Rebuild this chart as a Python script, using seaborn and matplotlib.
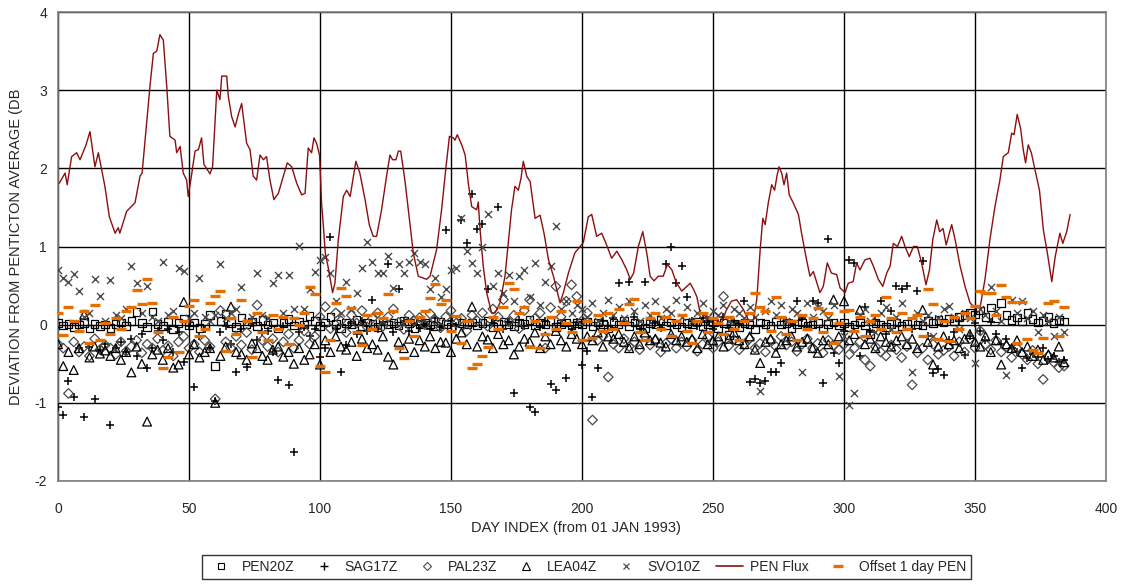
import pandas as pd
import seaborn as sns
import matplotlib.pyplot as plt
from matplotlib.lines import Line2D

# day index of the daily station points (every second day)
days = list(range(0, 386, 2))

pen20z = [
    0.02, -0.01, 0.01, -0.03, 0.00, 0.02, -0.05, 0.01, -0.02, 0.00,
    -0.04, 0.01, 0.03, -0.02, 0.05, 0.16, 0.02, -0.03, 0.17, 0.01,
    -0.02, 0.04, -0.06, 0.02, 0.08, -0.01, 0.03, -0.04, 0.01, 0.12,
    -0.53, 0.05, 0.14, 0.02, -0.03, 0.09, 0.01, 0.04, -0.02, 0.06,
    0.00, 0.03, -0.05, 0.02, 0.07, -0.01, 0.04, 0.00, 0.11, 0.05,
    -0.02, 0.03, 0.10, 0.01, -0.04, 0.02, 0.00, 0.06, -0.02, 0.03,
    0.01, -0.03, 0.04, 0.00, 0.02, -0.01, 0.05, 0.02, -0.04, 0.01,
    0.03, 0.00, -0.02, 0.04, 0.01, -0.03, 0.06, 0.02, 0.00, 0.03,
    -0.01, 0.02, 0.05, -0.03, 0.01, 0.04, 0.00, -0.02, 0.03, 0.01,
    0.06, -0.01, 0.02, 0.00, 0.04, -0.03, 0.01, 0.03, -0.01, 0.02,
    0.00, 0.04, -0.02, 0.03, 0.01, -0.05, 0.02, 0.00, 0.05, -0.02,
    0.03, 0.01, -0.04, 0.02, 0.00, 0.06, -0.01, 0.03, 0.01, -0.03,
    0.02, 0.00, 0.04, -0.02, 0.01, 0.03, -0.05, 0.02, -0.13, 0.01,
    -0.03, 0.02, 0.00, -0.06, 0.03, 0.01, -0.02, 0.04, 0.00, 0.02,
    -0.04, 0.01, 0.03, -0.02, 0.00, 0.02, -0.05, 0.01, 0.03, -0.01,
    0.02, -0.03, 0.00, 0.03, -0.01, -0.12, 0.02, 0.00, -0.03, 0.01,
    0.03, -0.02, 0.01, 0.04, 0.00, -0.01, 0.05, 0.02, 0.06, 0.03,
    0.08, 0.05, 0.10, 0.12, 0.15, 0.13, 0.18, 0.10, 0.22, 0.08,
    0.28, 0.12, 0.06, 0.09, 0.04, 0.15, 0.07, 0.03, 0.05, 0.10,
    0.02, 0.06, 0.04,
]

sag17z = [
    -1.05, -1.15, -0.72, -0.92, -0.30, -1.18, -0.28, -0.95, -0.33, -0.25,
    -1.28, -0.30, -0.22, -0.35, -0.18, -0.40, -0.12, -0.55, -0.30, -0.08,
    -0.20, -0.05, -0.35, -0.10, -0.48, -0.02, -0.80, -0.15, -0.05, -0.30,
    -0.98, -0.10, -0.02, -0.25, -0.60, -0.05, -0.54, 0.02, -0.20, -0.10,
    -0.08, -0.35, -0.71, -0.02, -0.77, -1.63, -0.10, -0.03, -0.15, -0.05,
    -0.41, -0.30, 1.12, -0.05, -0.60, -0.26, 0.02, -0.12, 0.05, -0.08,
    0.32, -0.05, 0.03, 0.78, -0.10, 0.45, 0.05, -0.08, 0.02, -0.04,
    0.01, -0.06, 0.08, -0.03, 1.21, 0.05, -0.02, 1.34, 1.04, 1.67,
    1.23, 1.29, 0.45, 0.02, 1.51, -0.05, 0.04, -0.88, 0.06, -0.02,
    -1.05, -1.12, -0.03, 0.05, -0.76, -0.83, 0.02, -0.68, -0.05, 0.04,
    -0.51, -0.34, -0.92, -0.55, 0.05, -0.02, 0.08, 0.53, 0.04, 0.55,
    0.10, -0.05, 0.55, 0.06, 0.02, -0.04, 0.77, 1.00, 0.53, 0.75,
    0.36, 0.05, -0.02, 0.08, 0.03, -0.06, 0.02, 0.10, -0.04, 0.04,
    0.01, 0.30, -0.73, -0.70, -0.75, -0.72, -0.60, -0.60, -0.49, 0.05,
    0.02, 0.30, 0.08, -0.03, 0.30, 0.28, -0.74, 1.09, -0.36, -0.49,
    -0.08, 0.83, 0.79, -0.40, 0.23, -0.10, 0.05, 0.30, -0.12, 0.17,
    0.49, 0.45, 0.49, -0.05, 0.43, 0.81, -0.15, -0.62, -0.57, -0.65,
    -0.20, -0.10, 0.05, -0.39, -0.15, 0.02, -0.08, -0.20, 0.03, -0.12,
    -0.25, -0.18, -0.30, -0.35, -0.56, -0.43, -0.38, -0.42, -0.30, -0.45,
    -0.40, -0.48, -0.45,
]

pal23z = [
    -0.25, -0.30, -0.88, -0.22, -0.35, -0.28, -0.40, -0.18, -0.32, -0.26,
    -0.30, -0.38, -0.22, -0.34, -0.28, -0.20, -0.36, -0.25, -0.30, -0.18,
    -0.33, -0.27, -0.40, -0.22, -0.15, -0.30, -0.25, -0.35, -0.20, -0.28,
    -0.95, 0.18, -0.22, -0.30, -0.15, -0.26, -0.10, -0.32, 0.25, -0.20,
    -0.28, -0.18, -0.35, -0.22, -0.12, -0.30, -0.20, -0.08, -0.25, -0.15,
    0.10, 0.23, -0.05, 0.15, 0.05, -0.10, 0.12, 0.02, 0.18, -0.03,
    0.08, 0.15, -0.02, 0.10, 0.20, 0.03, -0.06, 0.12, 0.05, 0.09,
    0.00, 0.14, 0.06, -0.04, 0.10, 0.18, 0.02, 0.08, -0.08, 0.12,
    0.05, 0.15, -0.02, 0.20, 0.10, 0.32, 0.04, 0.12, -0.05, 0.18,
    0.32, 0.08, 0.15, -0.30, 0.22, 0.49, 0.10, 0.30, 0.51, 0.36,
    0.05, 0.15, -1.22, -0.20, -0.15, -0.67, -0.25, -0.30, -0.18, -0.28,
    -0.22, -0.32, -0.15, -0.26, -0.20, -0.35, -0.24, -0.18, -0.30, -0.22,
    -0.28, -0.20, -0.34, -0.25, -0.16, -0.30, -0.22, 0.36, -0.27, -0.19,
    -0.32, -0.25, -0.18, -0.30, -0.24, -0.35, -0.20, -0.28, -0.15, -0.26,
    -0.22, -0.34, -0.25, -0.18, -0.30, -0.24, -0.36, -0.20, -0.27, -0.32,
    -0.25, -0.38, -0.30, -0.22, -0.45, -0.53, -0.28, -0.35, -0.40, -0.26,
    -0.32, -0.42, -0.28, -0.77, -0.36, -0.30, -0.45, -0.25, -0.38, -0.33,
    -0.28, -0.40, -0.22, -0.35, -0.18, -0.30, -0.08, -0.25, -0.32, -0.20,
    -0.35, -0.28, -0.42, -0.30, -0.38, -0.45, -0.33, -0.50, -0.70, -0.40,
    -0.48, -0.55, -0.53,
]

lea04z = [
    -0.25, -0.53, -0.35, -0.58, -0.30, 0.13, -0.42, -0.28, -0.37, -0.33,
    -0.40, -0.30, -0.45, -0.35, -0.61, -0.28, -0.50, -1.24, -0.38, -0.32,
    -0.45, -0.30, -0.55, -0.51, 0.29, -0.38, -0.25, -0.42, -0.35, -0.30,
    -1.00, -0.40, -0.28, 0.23, -0.35, -0.38, -0.45, -0.24, -0.30, -0.40,
    -0.45, -0.32, -0.28, -0.41, -0.35, -0.50, -0.30, -0.45, -0.38, -0.25,
    -0.51, -0.20, -0.35, -0.15, -0.28, -0.32, -0.22, -0.40, -0.18, -0.30,
    -0.25, -0.32, -0.15, -0.41, -0.51, -0.22, -0.30, -0.18, -0.35, -0.20,
    -0.28, -0.15, -0.30, -0.22, -0.23, -0.35, -0.18, -0.10, -0.25, 0.23,
    -0.28, -0.15, -0.19, -0.30, -0.12, -0.25, -0.20, -0.38, -0.28, -0.18,
    -0.22, -0.10, -0.30, -0.15, -0.25, -0.08, -0.20, -0.28, -0.12, -0.18,
    -0.25, -0.15, -0.20, -0.10, -0.28, -0.15, -0.18, -0.12, -0.22, -0.30,
    -0.15, -0.25, -0.10, -0.20, -0.18, -0.23, -0.28, -0.12, -0.20, -0.15,
    -0.22, -0.18, -0.30, -0.12, -0.25, -0.20, -0.15, -0.28, -0.18, -0.10,
    -0.20, -0.25, -0.15, -0.32, -0.49, -0.22, -0.18, -0.36, -0.25, -0.20,
    -0.15, -0.28, -0.22, -0.18, -0.30, -0.36, -0.20, -0.25, 0.32, -0.15,
    0.30, -0.20, -0.12, 0.19, -0.25, -0.18, -0.30, -0.15, -0.22, -0.28,
    -0.20, -0.15, -0.25, -0.18, -0.30, 0.19, -0.22, -0.51, -0.28, -0.15,
    -0.25, -0.20, -0.30, -0.18, -0.12, -0.22, -0.28, -0.15, -0.35, -0.20,
    -0.51, -0.25, -0.30, -0.20, -0.35, -0.28, -0.40, -0.32, -0.45, -0.38,
    -0.42, -0.28, -0.48,
]

svo10z = [
    0.70, 0.60, 0.55, 0.65, 0.43, 0.10, 0.15, 0.58, 0.37, 0.05,
    0.57, 0.12, 0.08, 0.20, 0.75, 0.53, 0.15, 0.50, 0.10, 0.05,
    0.80, 0.12, 0.18, 0.72, 0.69, 0.08, 0.15, 0.60, 0.10, 0.05,
    0.12, 0.77, 0.08, 0.15, 0.20, 0.48, 0.05, 0.10, 0.66, 0.12,
    0.08, 0.53, 0.63, 0.15, 0.64, 0.20, 1.01, 0.20, 0.45, 0.68,
    0.83, 0.87, 0.66, 0.30, 0.15, 0.55, 0.20, 0.40, 0.72, 1.06,
    0.80, 0.66, 0.66, 0.88, 0.47, 0.77, 0.66, 0.80, 0.92, 0.80,
    0.77, 0.45, 0.60, 0.35, 0.45, 0.70, 0.72, 1.36, 0.94, 0.79,
    0.66, 1.00, 1.42, 0.50, 0.66, 0.40, 0.64, 0.30, 0.62, 0.70,
    0.35, 0.79, 0.25, 0.55, 0.75, 1.26, 0.20, 0.30, 0.15, 0.25,
    0.20, 0.10, 0.28, 0.05, 0.15, 0.32, 0.12, 0.22, 0.08, 0.30,
    0.18, 0.05, 0.25, 0.12, 0.30, 0.08, 0.20, 0.15, 0.32, 0.10,
    0.22, 0.05, 0.15, 0.28, 0.10, 0.18, 0.12, 0.25, 0.05, 0.20,
    0.15, 0.08, 0.22, 0.10, -0.85, 0.18, 0.30, 0.12, 0.25, 0.05,
    0.20, 0.15, -0.60, 0.28, 0.10, 0.22, 0.18, 0.08, 0.25, -0.66,
    -0.15, -1.03, -0.87, 0.12, 0.20, 0.05, -0.10, 0.15, 0.22, -0.05,
    0.10, 0.28, -0.20, -0.60, 0.15, 0.05, 0.12, -0.15, 0.08, 0.20,
    0.24, 0.10, -0.05, 0.15, 0.08, -0.49, 0.20, 0.12, 0.48, 0.18,
    0.05, -0.64, 0.32, 0.15, 0.30, 0.08, 0.17, -0.10, 0.12, 0.05,
    -0.15, 0.10, -0.10,
]

offset_pen = [
    0.15, -0.13, 0.23, 0.05, -0.08, 0.17, -0.23, 0.25, -0.20, 0.02,
    -0.12, 0.08, -0.05, 0.17, 0.22, 0.44, 0.27, 0.58, 0.28, -0.10,
    -0.55, -0.41, 0.10, -0.35, 0.05, 0.24, 0.31, -0.15, -0.05, 0.28,
    0.37, 0.43, -0.34, 0.08, -0.12, 0.32, 0.05, -0.41, 0.15, -0.10,
    -0.19, 0.12, -0.05, 0.10, -0.25, 0.08, 0.00, 0.15, 0.48, 0.39,
    -0.53, -0.61, -0.19, 0.28, 0.47, 0.37, 0.21, -0.10, -0.26, 0.12,
    -0.05, 0.15, 0.08, 0.39, 0.17, -0.30, -0.43, 0.05, -0.15, 0.10,
    0.18, 0.34, 0.52, 0.27, 0.31, -0.08, 0.11, -0.23, 0.05, -0.55,
    -0.50, -0.40, -0.29, 0.10, -0.05, 0.23, 0.53, 0.45, 0.15, 0.23,
    -0.29, 0.05, -0.30, -0.12, 0.10, -0.05, 0.18, 0.02, -0.10, 0.30,
    -0.19, 0.05, -0.17, 0.12, -0.08, 0.15, -0.05, 0.20, 0.02, 0.27,
    0.33, -0.10, -0.19, 0.08, 0.15, -0.05, 0.10, -0.15, 0.05, 0.12,
    -0.08, -0.23, 0.05, 0.15, -0.10, 0.08, 0.02, -0.12, 0.10, -0.05,
    -0.19, 0.05, 0.15, 0.41, 0.23, 0.18, -0.08, 0.36, 0.10, -0.12,
    0.05, -0.19, 0.12, -0.05, 0.08, 0.21, -0.10, 0.15, -0.24, 0.02,
    0.18, 0.19, -0.08, 0.10, -0.15, 0.05, 0.12, -0.05, 0.36, 0.08,
    -0.10, 0.15, -0.05, 0.08, 0.12, -0.15, 0.45, 0.26, -0.18, 0.05,
    -0.21, 0.10, -0.05, 0.15, 0.08, 0.24, 0.43, 0.41, 0.41, 0.12,
    0.51, 0.35, 0.29, -0.24, 0.29, -0.18, -0.32, -0.36, -0.17, 0.28,
    0.30, -0.14, 0.23,
]

# PEN flux curve, traced point by point
flux_day = [
    0.5, 2.7, 3.5, 5.2, 7.1, 8.4, 10.7, 12.2, 14.1, 15.4,
    17.9, 19.6, 21.8, 23.0, 23.6, 26.2, 29.4, 31.3, 32.1, 35.1,
    36.4, 37.7, 38.9, 40.2, 41.5, 42.7, 44.7, 45.3, 46.6, 47.8,
    49.1, 49.7, 51.0, 52.3, 53.6, 54.8, 55.7, 58.0, 59.0, 60.6,
    61.8, 62.5, 64.4, 65.0, 66.3, 67.6, 68.9, 70.1, 72.0, 73.3,
    74.5, 75.8, 77.1, 78.4, 79.6, 80.9, 82.4, 84.1, 86.0, 87.5,
    89.2, 91.1, 93.0, 94.3, 95.5, 96.8, 97.7, 98.7, 99.8, 100.3,
    100.6, 101.3, 102.0, 103.2, 104.8, 105.7, 107.0, 108.9, 110.2, 111.5,
    113.7, 115.2, 117.2, 118.8, 120.3, 121.6, 123.5, 125.4, 126.7, 127.7,
    129.0, 129.9, 130.8, 132.4, 133.7, 135.6, 137.5, 140.7, 142.0, 144.5,
    146.4, 148.1, 149.4, 150.9, 151.5, 152.4, 154.1, 155.4, 156.6, 157.9,
    159.8, 160.4, 161.1, 162.3, 163.6, 165.5, 166.8, 168.7, 170.6, 173.1,
    174.4, 175.7, 176.7, 177.6, 178.9, 180.2, 182.1, 184.0, 185.5, 187.2,
    189.1, 191.6, 192.9, 194.8, 197.3, 200.5, 202.4, 203.7, 205.6, 207.5,
    209.4, 211.3, 213.3, 215.2, 217.1, 218.4, 219.7, 221.5, 223.2, 224.7,
    226.0, 227.5, 229.1, 231.0, 232.6, 234.3, 236.1, 238.1, 240.0, 241.3,
    242.6, 243.8, 245.1, 247.0, 249.0, 251.5, 253.3, 255.0, 257.0, 259.0,
    261.5, 263.5, 265.4, 266.7, 268.0, 269.0, 269.9, 271.1, 272.4, 273.5,
    274.4, 275.2, 276.2, 277.1, 278.1, 279.1, 280.6, 282.6, 283.8, 285.7,
    287.0, 288.3, 289.5, 290.8, 292.1, 293.6, 295.2, 297.2, 298.5, 300.4,
    301.6, 303.5, 304.8, 306.1, 308.0, 309.9, 311.2, 313.1, 314.8, 316.3,
    317.6, 318.8, 320.4, 322.0, 323.3, 324.9, 326.5, 328.0, 329.6, 331.3,
    332.6, 333.9, 335.4, 336.5, 337.8, 339.0, 341.1, 342.4, 344.3, 346.2,
    348.1, 350.1, 352.0, 353.8, 355.7, 357.6, 359.5, 360.8, 362.7, 364.0,
    364.9, 366.1, 367.4, 368.4, 369.3, 370.3, 371.5, 372.9, 374.6, 376.1,
    377.6, 379.3, 380.6, 382.4, 383.5, 385.0, 386.3,
]
flux_val = [
    1.81, 1.94, 1.79, 2.15, 2.20, 2.11, 2.30, 2.47, 2.02, 2.20,
    1.77, 1.38, 1.17, 1.24, 1.17, 1.45, 1.56, 1.90, 1.94, 3.05,
    3.47, 3.50, 3.71, 3.64, 3.05, 2.41, 2.36, 2.20, 2.28, 1.94,
    1.85, 1.64, 1.92, 2.22, 2.24, 2.39, 2.05, 1.93, 2.02, 3.00,
    2.88, 3.18, 3.18, 2.92, 2.66, 2.53, 2.70, 2.83, 2.32, 2.24,
    1.90, 1.85, 2.17, 2.11, 2.15, 1.85, 1.60, 1.68, 1.90, 2.07,
    2.02, 1.81, 1.66, 1.68, 2.26, 2.20, 2.39, 2.32, 2.17, 1.81,
    1.55, 1.26, 0.92, 0.72, 0.41, 0.53, 1.09, 1.64, 1.72, 1.64,
    2.09, 1.94, 1.60, 1.28, 1.13, 1.13, 1.47, 1.90, 2.17, 2.11,
    2.11, 2.22, 2.22, 1.85, 1.47, 0.92, 0.62, 0.58, 0.62, 0.96,
    1.47, 2.02, 2.41, 2.39, 2.36, 2.43, 2.30, 2.17, 1.81, 1.51,
    1.47, 1.57, 1.21, 0.75, 0.41, 0.15, 0.15, 0.28, 0.62, 1.47,
    1.77, 1.72, 1.87, 2.09, 1.90, 1.83, 1.36, 1.40, 1.17, 0.83,
    0.62, 0.28, 0.41, 0.66, 0.92, 1.05, 1.38, 1.41, 1.13, 1.17,
    1.02, 0.85, 0.94, 0.83, 0.70, 0.58, 0.66, 1.00, 1.19, 0.92,
    0.62, 0.56, 0.62, 0.62, 0.77, 0.70, 0.53, 0.43, 0.49, 0.53,
    0.45, 0.36, 0.15, 0.11, 0.07, 0.05, 0.02, 0.18, 0.30, 0.32,
    0.20, 0.06, 0.06, 0.32, 0.96, 1.36, 1.28, 1.56, 1.79, 1.72,
    1.90, 2.02, 1.94, 1.79, 1.94, 1.66, 1.56, 1.41, 1.17, 0.83,
    0.62, 0.68, 0.55, 0.41, 0.49, 0.79, 0.66, 0.64, 0.47, 0.41,
    0.53, 0.55, 0.79, 0.70, 0.83, 0.85, 0.75, 0.58, 0.49, 0.66,
    0.75, 1.04, 1.00, 1.13, 1.00, 0.87, 1.00, 1.00, 0.79, 0.51,
    0.70, 1.09, 1.34, 1.19, 1.23, 1.02, 1.28, 1.09, 0.75, 0.49,
    0.28, 0.21, 0.23, 0.58, 1.09, 1.51, 1.85, 2.15, 2.20, 2.45,
    2.43, 2.69, 2.51, 2.24, 2.07, 2.30, 2.20, 1.98, 1.72, 1.21,
    0.92, 0.55, 0.87, 1.17, 1.04, 1.19, 1.41,
]

flux_color = "#8B0F0F"
orange = "#E66E00"

sns.set_style("white")
plt.rcParams["font.family"] = ["Liberation Sans", "DejaVu Sans"]
plt.rcParams["axes.unicode_minus"] = False

fig = plt.figure(figsize=(11.24, 5.86), dpi=100)
ax = fig.add_axes([0.0516, 0.1792, 0.9324, 0.8003])

# station deviations
sns.scatterplot(x=days, y=pen20z, marker="s", s=30, facecolor="none",
                edgecolor="black", linewidth=0.9, ax=ax, legend=False, zorder=3)
sns.scatterplot(x=days, y=sag17z, marker="+", s=34, color="black",
                linewidth=1.1, ax=ax, legend=False, zorder=3)
sns.scatterplot(x=days, y=pal23z, marker="D", s=24, facecolor="none",
                edgecolor="#4a4a4a", linewidth=0.9, ax=ax, legend=False, zorder=3)
sns.scatterplot(x=days, y=lea04z, marker="^", s=40, facecolor="none",
                edgecolor="black", linewidth=0.9, ax=ax, legend=False, zorder=3)
sns.scatterplot(x=days, y=svo10z, marker="x", s=26, color="#4a4a4a",
                linewidth=1.0, ax=ax, legend=False, zorder=3)

# flux curve
flux = pd.DataFrame({"day": flux_day, "val": flux_val})
sns.lineplot(data=flux, x="day", y="val", sort=False, estimator=None,
             color=flux_color, lw=1.0, ax=ax, zorder=4)

# offset series drawn as short orange dashes
sns.scatterplot(x=days, y=offset_pen, marker="_", s=50, color=orange,
                linewidth=2.4, ax=ax, legend=False, zorder=5)

ax.set_xlim(0, 400)
ax.set_ylim(-2, 4)
ax.set_xticks(range(0, 401, 50))
ax.set_yticks(range(-2, 5))
ax.grid(True, color="black", lw=1.0)
ax.set_axisbelow(True)
for sp in ax.spines.values():
    sp.set_color("#808080")
    sp.set_linewidth(1.2)
ax.tick_params(axis="y", length=4, width=1, color="#808080", labelsize=10, pad=4)
ax.tick_params(axis="x", length=0, labelsize=10, pad=15)

ax.set_xlabel("DAY INDEX (from 01 JAN 1993)", fontsize=10.5)
ax.set_ylabel("DEVIATION FROM PENTICTON AVERAGE (DB", fontsize=10.5)
ax.xaxis.set_label_coords(0.494, -0.085)
ax.yaxis.set_label_coords(-0.033, 0.5)

handles = [
    Line2D([], [], ls="none", marker="s", ms=5, mfc="none", mec="black", mew=0.8),
    Line2D([], [], ls="none", marker="+", ms=6, color="black", mew=1.0),
    Line2D([], [], ls="none", marker="D", ms=4.5, mfc="none", mec="#4a4a4a", mew=0.8),
    Line2D([], [], ls="none", marker="^", ms=5.5, mfc="none", mec="black", mew=0.8),
    Line2D([], [], ls="none", marker="x", ms=5, color="#4a4a4a", mew=0.9),
    Line2D([], [], color=flux_color, lw=1.2),
    Line2D([], [], ls="none", marker="_", ms=7, color=orange, mew=2.4),
]
labels = ["PEN20Z", "SAG17Z", "PAL23Z", "LEA04Z", "SVO10Z", "PEN Flux", "Offset 1 day PEN"]
leg = fig.legend(handles, labels, loc="lower center", bbox_to_anchor=(0.522, 0.0),
                 ncol=7, frameon=True, fancybox=False, fontsize=10,
                 handlelength=2.0, handletextpad=0.5, columnspacing=1.1,
                 borderpad=0.35)
leg.get_frame().set_edgecolor("black")
leg.get_frame().set_linewidth(1.0)

fig.savefig("out.png", dpi=100)
